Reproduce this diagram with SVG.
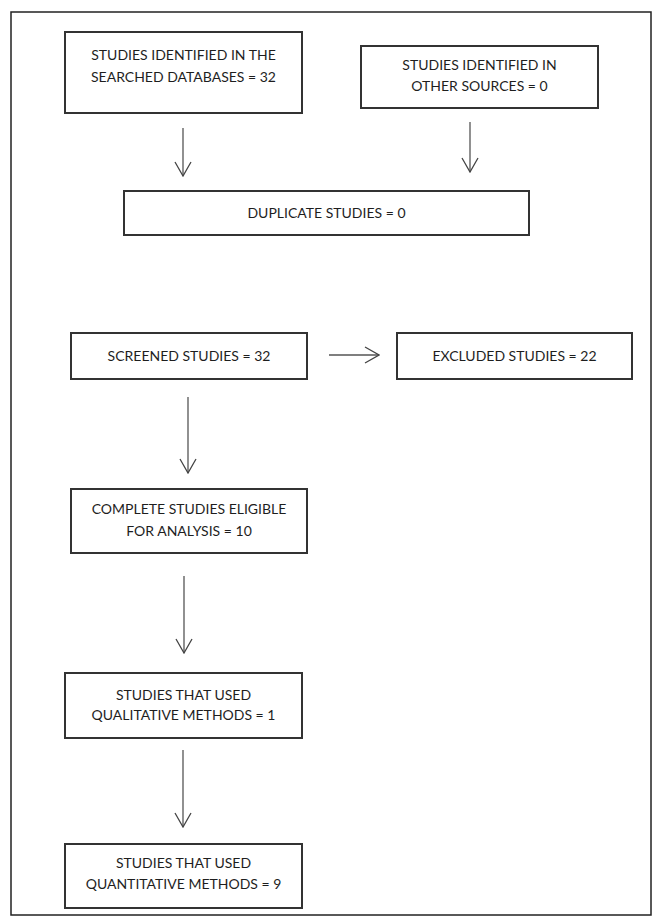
<svg xmlns="http://www.w3.org/2000/svg" width="663" height="922" viewBox="0 0 663 922">
<defs>
<style>
.box{fill:#ffffff;stroke:#333333;stroke-width:2}
.t{font-family:Lato,"Liberation Sans",sans-serif;font-size:14px;fill:#1e1e1e;text-anchor:middle}
.c{fill:none;stroke:#555555;stroke-width:1.3}
</style>
<marker id="arr" viewBox="0 0 16 18" refX="15" refY="9" markerWidth="16" markerHeight="18" markerUnits="userSpaceOnUse" orient="auto">
<path d="M1,1 L15,9 L1,17" fill="none" stroke="#444444" stroke-width="1.3"/>
</marker>
</defs>
<rect x="0" y="0" width="663" height="922" fill="#ffffff"/>
<rect x="11" y="12" width="640" height="903" fill="none" stroke="#222222" stroke-width="1.5"/>
<g id="connectors">
<line class="c" x1="183" y1="128" x2="183" y2="176" marker-end="url(#arr)"/>
<line class="c" x1="470" y1="122" x2="470" y2="172" marker-end="url(#arr)"/>
<line class="c" x1="329" y1="355" x2="379" y2="355" marker-end="url(#arr)"/>
<line class="c" x1="188" y1="397" x2="188" y2="473" marker-end="url(#arr)"/>
<line class="c" x1="184" y1="576" x2="184" y2="653" marker-end="url(#arr)"/>
<line class="c" x1="183" y1="750" x2="183" y2="827" marker-end="url(#arr)"/>
</g>
<g id="n1">
<rect class="box" x="65" y="32" width="237" height="81"/>
<text class="t" x="183.5" y="59.5">STUDIES IDENTIFIED IN THE</text>
<text class="t" x="183.5" y="82">SEARCHED DATABASES = 32</text>
</g>
<g id="n2">
<rect class="box" x="361" y="46" width="237" height="62"/>
<text class="t" x="479.5" y="70">STUDIES IDENTIFIED IN</text>
<text class="t" x="479.5" y="91">OTHER SOURCES = 0</text>
</g>
<g id="n3">
<rect class="box" x="124" y="191" width="405" height="44"/>
<text class="t" x="326.5" y="218">DUPLICATE STUDIES = 0</text>
</g>
<g id="n4">
<rect class="box" x="71" y="333" width="236" height="46"/>
<text class="t" x="189" y="361">SCREENED STUDIES = 32</text>
</g>
<g id="n5">
<rect class="box" x="397" y="333" width="235" height="46"/>
<text class="t" x="514.5" y="361">EXCLUDED STUDIES = 22</text>
</g>
<g id="n6">
<rect class="box" x="71" y="489" width="236" height="64"/>
<text class="t" x="189" y="514">COMPLETE STUDIES ELIGIBLE</text>
<text class="t" x="189" y="536">FOR ANALYSIS = 10</text>
</g>
<g id="n7">
<rect class="box" x="65" y="673" width="237" height="65"/>
<text class="t" x="183.5" y="700">STUDIES THAT USED</text>
<text class="t" x="183.5" y="720">QUALITATIVE METHODS = 1</text>
</g>
<g id="n8">
<rect class="box" x="65" y="844" width="237" height="64"/>
<text class="t" x="183.5" y="868">STUDIES THAT USED</text>
<text class="t" x="183.5" y="889">QUANTITATIVE METHODS = 9</text>
</g>
</svg>
